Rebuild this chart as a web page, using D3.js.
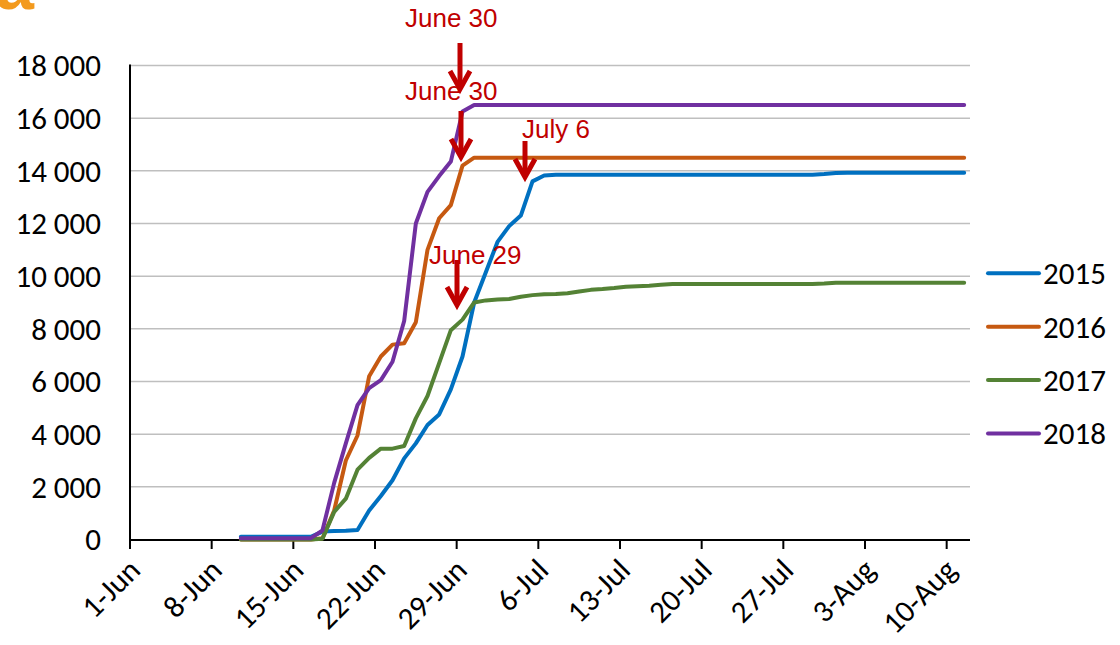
<!DOCTYPE html>
<html>
<head>
<meta charset="utf-8">
<script src="https://cdn.jsdelivr.net/npm/d3@7"></script>
<style>
  html, body { margin: 0; padding: 0; background: #fff; }
  svg { display: block; }
</style>
</head>
<body>
<svg id="chart" width="1120" height="645"></svg>
<script>
// ---------- data ----------
const seriesNames = ["2015", "2016", "2017", "2018"];
const seriesColors = ["#0070C0", "#C65911", "#548235", "#7030A0"];
const firstDate = "2018-06-10";   // first daily value (Jun 10) ... last is Aug 11

const values2015 = [100,100,100,100,100,100,100, 300,320,330,360,1100,1650,2250,3080,3650,4350,4750,5700,6950,9000,10150,11300,11900,12300,13600,13820,
  13850,13850,13850,13850,13850,13850,13850,13850,13850,13850,13850,13850,13850,13850,13850,13850,13850,13850,13850,13850,13850,13850,13850,
  13880,13920,13930,13930,13930,13930,13930,13930,13930,13930,13930,13930,13930];
const values2016 = [0,0,0,0,0,0,0, 50,1100,3000,3950,6200,6950,7400,7450,8250,11000,12200,12700,14200,14500,14500,14500,14500,14500,14500,14500,
  14500,14500,14500,14500,14500,14500,14500,14500,14500,14500,14500,14500,14500,14500,14500,14500,14500,14500,14500,14500,14500,14500,14500,
  14500,14500,14500,14500,14500,14500,14500,14500,14500,14500,14500,14500,14500];
const values2017 = [0,0,0,0,0,0,0, 30,1050,1550,2650,3100,3450,3450,3550,4600,5450,6700,7950,8350,9000,9080,9110,9130,9220,9280,9310,
  9320,9350,9420,9480,9510,9550,9600,9620,9640,9670,9700,9700,9700,9700,9700,9700,9700,9700,9700,9700,9700,9700,9700,
  9720,9750,9750,9750,9750,9750,9750,9750,9750,9750,9750,9750,9750];
const values2018 = [50,50,50,50,50,50,50, 350,2150,3650,5100,5750,6050,6750,8300,12000,13200,13800,14350,16250,16500,16500,16500,16500,16500,16500,16500,
  16500,16500,16500,16500,16500,16500,16500,16500,16500,16500,16500,16500,16500,16500,16500,16500,16500,16500,16500,16500,16500,16500,16500,
  16500,16500,16500,16500,16500,16500,16500,16500,16500,16500,16500,16500,16500];

const xTickLabels = ["1-Jun","8-Jun","15-Jun","22-Jun","29-Jun","6-Jul","13-Jul","20-Jul","27-Jul","3-Aug","10-Aug"];
const yTicks = [0,2000,4000,6000,8000,10000,12000,14000,16000,18000];

const annotations = [
  { text: "June 30", tx: 405, ty: 27,  ax: 460, ay0: 43,  ay1: 92 },
  { text: "June 30", tx: 405, ty: 100, ax: 461, ay0: 111, ay1: 160 },
  { text: "July 6",  tx: 522, ty: 138, ax: 525, ay0: 141, ay1: 180 },
  { text: "June 29", tx: 429, ty: 264, ax: 457, ay0: 260, ay1: 308 }
];

// ---------- layout ----------
(function () {
const svg = d3.select("#chart");
const plotL = 130, plotR = 970, plotT = 65.5, plotB = 539.5;
const FONT = "Carlito, Calibri, Lato, sans-serif";
const FS = 31;
const parse = d3.utcParse("%Y-%m-%d");
const x = d3.scaleUtc()
  .domain([parse("2018-06-01"), parse("2018-08-12")])
  .range([plotL, plotR]);
const y = d3.scaleLinear().domain([0, 18000]).range([plotB, plotT]);

const start = parse(firstDate);
const allValues = [values2015, values2016, values2017, values2018];
const series = seriesNames.map((name, i) => ({
  name, color: seriesColors[i],
  points: allValues[i].map((v, k) => ({ date: d3.utcDay.offset(start, k), v }))
}));

// panel letter (cropped at the top edge, as in the source figure)
svg.append("text").attr("x", -5).attr("y", 9)
  .attr("font-family", "Liberation Sans, Arial, sans-serif").attr("font-weight", "bold")
  .attr("font-size", 70).attr("fill", "#F39A1E").text("a");

// gridlines
svg.append("g").selectAll("line").data(yTicks.filter(t => t > 0)).join("line")
  .attr("x1", plotL).attr("x2", plotR)
  .attr("y1", d => y(d)).attr("y2", d => y(d))
  .attr("stroke", "#BFBFBF").attr("stroke-width", 1.5);

// y labels
const fmt = v => d3.format(",")(v).replace(/,/g, " ");
svg.append("g").selectAll("text").data(yTicks).join("text")
  .attr("x", 101).attr("y", d => y(d)).attr("dy", "0.35em")
  .attr("text-anchor", "end")
  .attr("font-family", FONT).attr("font-size", FS)
  .attr("fill", "#000").text(d => fmt(d));

// axes lines
svg.append("line").attr("x1", plotL).attr("x2", plotL).attr("y1", plotT - 1).attr("y2", plotB + 1)
  .attr("stroke", "#000").attr("stroke-width", 2);
const tickDates = xTickLabels.map((t, i) => d3.utcDay.offset(parse("2018-06-01"), i * 7));
svg.append("line").attr("x1", plotL - 1).attr("x2", plotR).attr("y1", plotB + 0.5).attr("y2", plotB + 0.5)
  .attr("stroke", "#000").attr("stroke-width", 2);
svg.append("g").selectAll("line").data(tickDates).join("line")
  .attr("x1", d => x(d)).attr("x2", d => x(d))
  .attr("y1", plotB).attr("y2", plotB + 9.5)
  .attr("stroke", "#000").attr("stroke-width", 2);
svg.append("g").selectAll("text").data(tickDates).join("text")
  .attr("transform", d => `translate(${x(d) + 12},${572}) rotate(-45)`)
  .attr("text-anchor", "end")
  .attr("font-family", FONT).attr("font-size", FS)
  .attr("fill", "#000").text((d, i) => xTickLabels[i]);

// lines
const line = d3.line()
  .x(d => x(d3.utcHour.offset(d.date, 12)))
  .y(d => y(d.v));
svg.append("g").selectAll("path").data(series).join("path")
  .attr("d", d => line(d.points))
  .attr("fill", "none").attr("stroke", d => d.color)
  .attr("stroke-width", 4).attr("stroke-linejoin", "round").attr("stroke-linecap", "round");

// legend
const lg = svg.append("g").selectAll("g").data(series).join("g")
  .attr("transform", (d, i) => `translate(0,${273.3 + i * 53.4})`);
lg.append("line").attr("x1", 988).attr("x2", 1039).attr("y1", 0).attr("y2", 0)
  .attr("stroke", d => d.color).attr("stroke-width", 4).attr("stroke-linecap", "round");
lg.append("text").attr("x", 1043).attr("y", 0).attr("dy", "0.35em")
  .attr("font-family", FONT).attr("font-size", FS)
  .attr("fill", "#000").text(d => d.name);

// annotations
const red = "#C00000";
const ag = svg.append("g").selectAll("g").data(annotations).join("g");
ag.append("text").attr("x", d => d.tx).attr("y", d => d.ty)
  .attr("font-family", "Liberation Sans, Arial, sans-serif").attr("font-size", 26)
  .attr("fill", red).text(d => d.text);
ag.append("line").attr("x1", d => d.ax).attr("x2", d => d.ax)
  .attr("y1", d => d.ay0).attr("y2", d => d.ay1 - 3)
  .attr("stroke", red).attr("stroke-width", 5);
ag.append("path")
  .attr("d", d => `M${d.ax - 10},${d.ay1 - 21} L${d.ax},${d.ay1 - 3} L${d.ax + 10},${d.ay1 - 21}`)
  .attr("fill", "none").attr("stroke", red).attr("stroke-width", 5)
  .attr("stroke-linejoin", "miter").attr("stroke-linecap", "butt");
})();
</script>
</body>
</html>
